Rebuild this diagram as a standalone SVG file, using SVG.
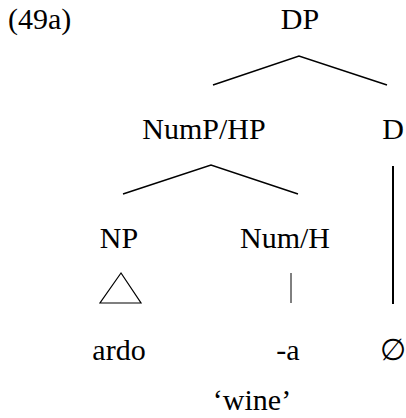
<svg xmlns="http://www.w3.org/2000/svg" width="406" height="418" viewBox="0 0 406 418">
<style>
.t{font-family:"Liberation Serif","Times New Roman",serif;font-size:30px;fill:#000}
.m{text-anchor:middle}
.e{stroke:#000;stroke-width:1.5;fill:none}
</style>
<rect width="406" height="418" fill="#fff"/>
<text class="t" x="8" y="29">(49a)</text>
<g id="edges">
<path class="e" d="M213,85 L299,56 L387,85"/>
<path class="e" d="M123,194 L211,165 L298,194"/>
<path class="e" style="stroke-width:2" d="M393,166 L393,304"/>
<path class="e" style="stroke-width:1" d="M291,273 L291,303"/>
<path class="e" style="stroke-width:1.2" d="M121,273 L100,303 L141,303 Z"/>
</g>
<g id="DP"><text class="t m" x="300" y="29">DP</text></g>
<g id="NumPHP"><text class="t m" x="204" y="139">NumP/HP</text></g>
<g id="D"><text class="t m" x="393" y="139">D</text></g>
<g id="NP"><text class="t m" x="119" y="248">NP</text></g>
<g id="NumH"><text class="t m" x="285" y="248">Num/H</text></g>
<g id="ardo"><text class="t m" x="119" y="360">ardo</text></g>
<g id="a"><text class="t m" x="288" y="360">-a</text></g>
<g id="empty"><text class="t m" x="393" y="360">∅</text></g>
<g id="wine"><text class="t m" x="252" y="410">‘wine’</text></g>
</svg>
